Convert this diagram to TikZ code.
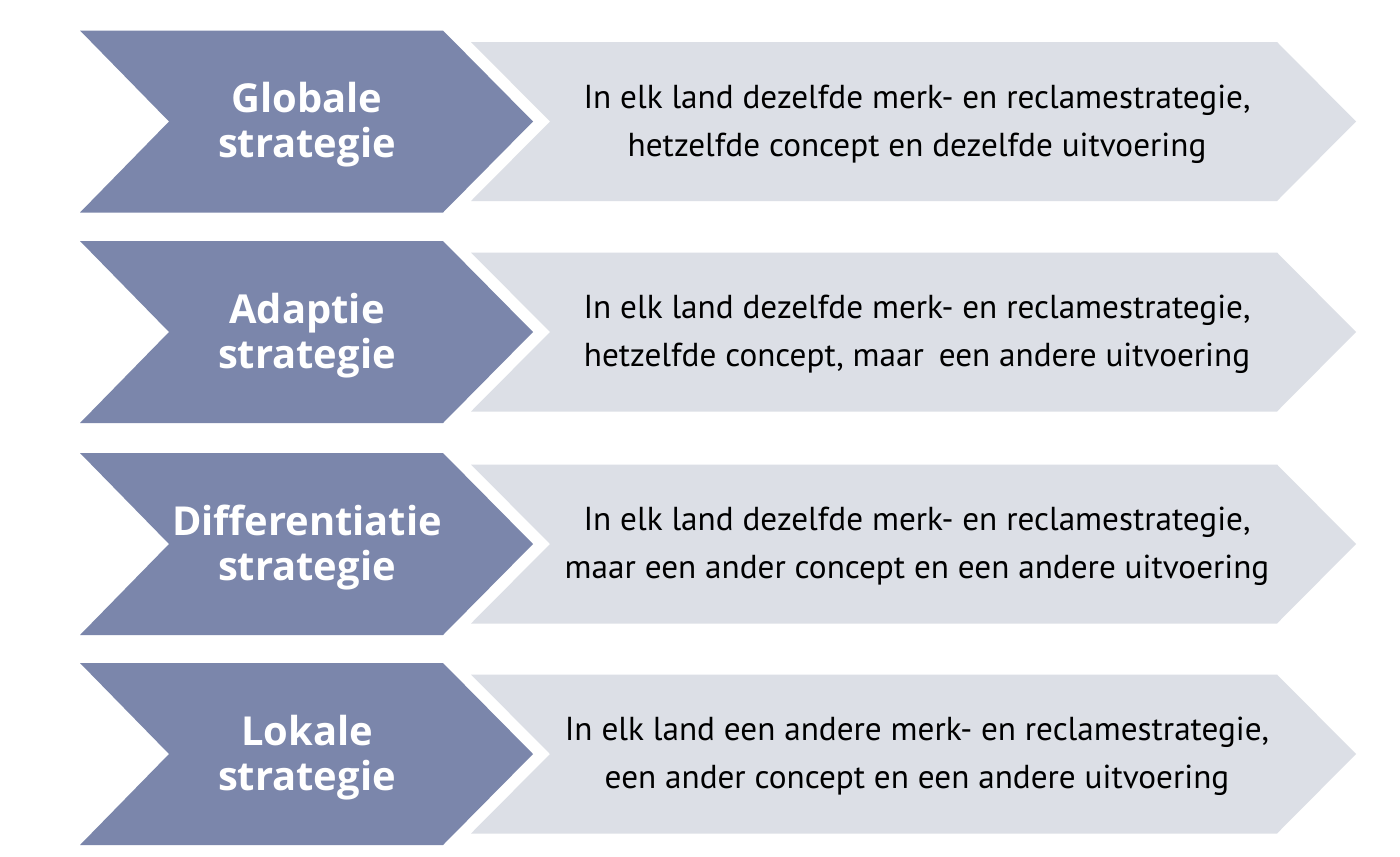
\documentclass[tikz,border=0pt]{standalone}
\usepackage{fontspec}
\setmainfont{PT Sans}
\newfontfamily\headfont{Open Sans}
\usepackage{tikz}
\usetikzlibrary{calc}
\definecolor{slate}{HTML}{7B86AB}
\definecolor{mist}{HTML}{DCDFE6}
\tikzset{
  headarrow/.style={fill=slate},
  bodyarrow/.style={fill=mist},
  headlab/.style={text=white, align=center, yshift=-2pt, font=\headfont\fontsize{22.7}{25.6}\selectfont\bfseries},
  bodylab/.style={text=black, align=center, yshift=-1.5pt, font=\fontsize{18.9}{27.3}\selectfont},
}

\begin{document}
\begin{tikzpicture}[x=0.02cm, y=-0.02cm]
  \useasboundingbox[fill=white] (0,0) rectangle (1400,856);
  \coordinate (r1) at (0,121.5);
  \coordinate (r2) at (0,332);
  \coordinate (r3) at (0,544);
  \coordinate (r4) at (0,754);

  \fill[headarrow] (r1) ++(80,-91) -- ++(363,0) -- ++(90,91) -- ++(-90,91) -- ++(-363,0) -- ++(89,-91) -- cycle;
  \fill[bodyarrow] (r1) ++(471,-79.5) -- ++(806,0) -- ++(79,79.5) -- ++(-79,79.5) -- ++(-806,0) -- ++(79,-79.5) -- cycle;
  \fill[headarrow] (r2) ++(80,-91) -- ++(363,0) -- ++(90,91) -- ++(-90,91) -- ++(-363,0) -- ++(89,-91) -- cycle;
  \fill[bodyarrow] (r2) ++(471,-79.5) -- ++(806,0) -- ++(79,79.5) -- ++(-79,79.5) -- ++(-806,0) -- ++(79,-79.5) -- cycle;
  \fill[headarrow] (r3) ++(80,-91) -- ++(363,0) -- ++(90,91) -- ++(-90,91) -- ++(-363,0) -- ++(89,-91) -- cycle;
  \fill[bodyarrow] (r3) ++(471,-79.5) -- ++(806,0) -- ++(79,79.5) -- ++(-79,79.5) -- ++(-806,0) -- ++(79,-79.5) -- cycle;
  \fill[headarrow] (r4) ++(80,-91) -- ++(363,0) -- ++(90,91) -- ++(-90,91) -- ++(-363,0) -- ++(89,-91) -- cycle;
  \fill[bodyarrow] (r4) ++(471,-79.5) -- ++(806,0) -- ++(79,79.5) -- ++(-79,79.5) -- ++(-806,0) -- ++(79,-79.5) -- cycle;

  \node[headlab] (glob) at ($(r1)+(307,0)$) {Globale\\strategie};
  \node[bodylab] (globtxt) at ($(r1)+(917,0)$) {In elk land dezelfde merk- en reclamestrategie,\\hetzelfde concept en dezelfde uitvoering};
  \node[headlab] (adap) at ($(r2)+(307,0)$) {Adaptie\\strategie};
  \node[bodylab] (adaptxt) at ($(r2)+(917,0)$) {In elk land dezelfde merk- en reclamestrategie,\\hetzelfde concept, maar\hspace{0.45em}een andere uitvoering};
  \node[headlab] (diff) at ($(r3)+(307,0)$) {Differentiatie\\strategie};
  \node[bodylab] (difftxt) at ($(r3)+(917,0)$) {In elk land dezelfde merk- en reclamestrategie,\\maar een ander concept en een andere uitvoering};
  \node[headlab] (lok) at ($(r4)+(307,0)$) {Lokale\\strategie};
  \node[bodylab] (loktxt) at ($(r4)+(917,0)$) {In elk land een andere merk- en reclamestrategie,\\een ander concept en een andere uitvoering};
\end{tikzpicture}
\end{document}
